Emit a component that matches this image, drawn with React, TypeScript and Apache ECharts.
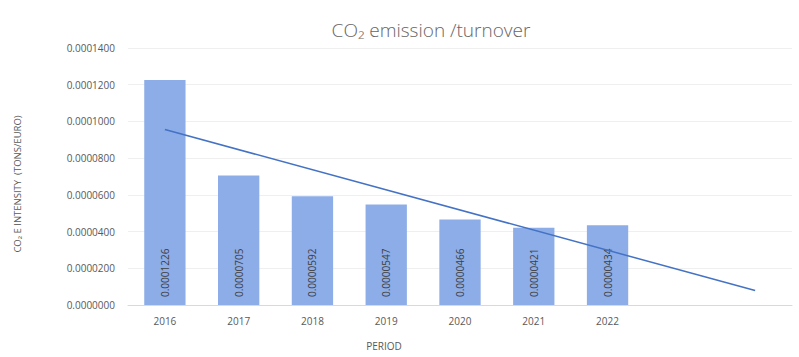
import React, { useEffect, useRef } from "react";
import * as echarts from "echarts";

const categories = ["2016", "2017", "2018", "2019", "2020", "2021", "2022", "", ""];
const intensity = [0.0001226, 0.0000705, 0.0000592, 0.0000547, 0.0000466, 0.0000421, 0.0000434];
// linear trendline endpoints (category index, value)
const trendPoints: [number, number][] = [
  [0, 0.0000956],
  [8, 0.0000079],
];
const yTicks = { min: 0, max: 0.00014, interval: 0.00002 };

const FONT = "'Open Sans', 'Noto Sans', sans-serif";
const GREY = "#595959";

export default function App() {
  const ref = useRef<HTMLDivElement>(null);
  useEffect(() => {
    if (!ref.current) return;
    const chart = echarts.init(ref.current, undefined, { renderer: "svg" });
    chart.setOption({
      animation: false,
      backgroundColor: "#ffffff",
      textStyle: { fontFamily: FONT },
      title: {
        text: "CO₂ emission /turnover",
        left: 426,
        top: 15,
        textAlign: "center",
        textStyle: { fontFamily: FONT, fontSize: 19, fontWeight: 300, color: "#666666" },
      },
      grid: { left: 128, right: 7, top: 48, bottom: 52, containLabel: false },
      xAxis: {
        type: "category",
        data: categories,
        axisLine: { lineStyle: { color: "#d9d9d9", width: 1 } },
        axisTick: { show: false },
        axisLabel: { color: GREY, fontSize: 10, fontFamily: FONT, margin: 11 },
      },
      yAxis: {
        type: "value",
        min: yTicks.min,
        max: yTicks.max,
        interval: yTicks.interval,
        axisLine: { show: false },
        axisTick: { show: false },
        splitLine: { lineStyle: { color: "#efefef", width: 1 } },
        axisLabel: {
          color: GREY,
          fontSize: 10,
          fontFamily: FONT,
          margin: 13,
          formatter: (v: number) => v.toFixed(7),
        },
      },
      graphic: [
        {
          type: "text",
          x: 384,
          y: 346,
          style: {
            text: "PERIOD",
            fill: GREY,
            font: `10px ${FONT}`,
            textAlign: "center",
            textVerticalAlign: "middle",
          },
        },
        {
          type: "text",
          x: 17,
          y: 184,
          rotation: Math.PI / 2,
          style: {
            text: "CO₂ E INTENSITY  (TONS/EURO)",
            fill: GREY,
            font: `9.5px ${FONT}`,
            textAlign: "center",
            textVerticalAlign: "middle",
          },
        },
      ],
      series: [
        {
          type: "bar",
          data: intensity,
          barWidth: "56%",
          itemStyle: { color: "#8DADE8" },
          label: {
            show: true,
            position: "insideBottom",
            rotate: 90,
            align: "left",
            verticalAlign: "middle",
            distance: 8,
            color: "#404040",
            fontSize: 10,
            fontFamily: FONT,
            formatter: (p: any) => Number(p.value).toFixed(7),
          },
          z: 2,
        },
        {
          type: "line",
          data: trendPoints,
          symbol: "none",
          lineStyle: { color: "#4472C4", width: 1.5 },
          z: 3,
        },
      ],
    });
    return () => chart.dispose();
  }, []);
  return <div ref={ref} style={{ width: 799, height: 357, position: "absolute", left: 0, top: 0 }} />;
}
